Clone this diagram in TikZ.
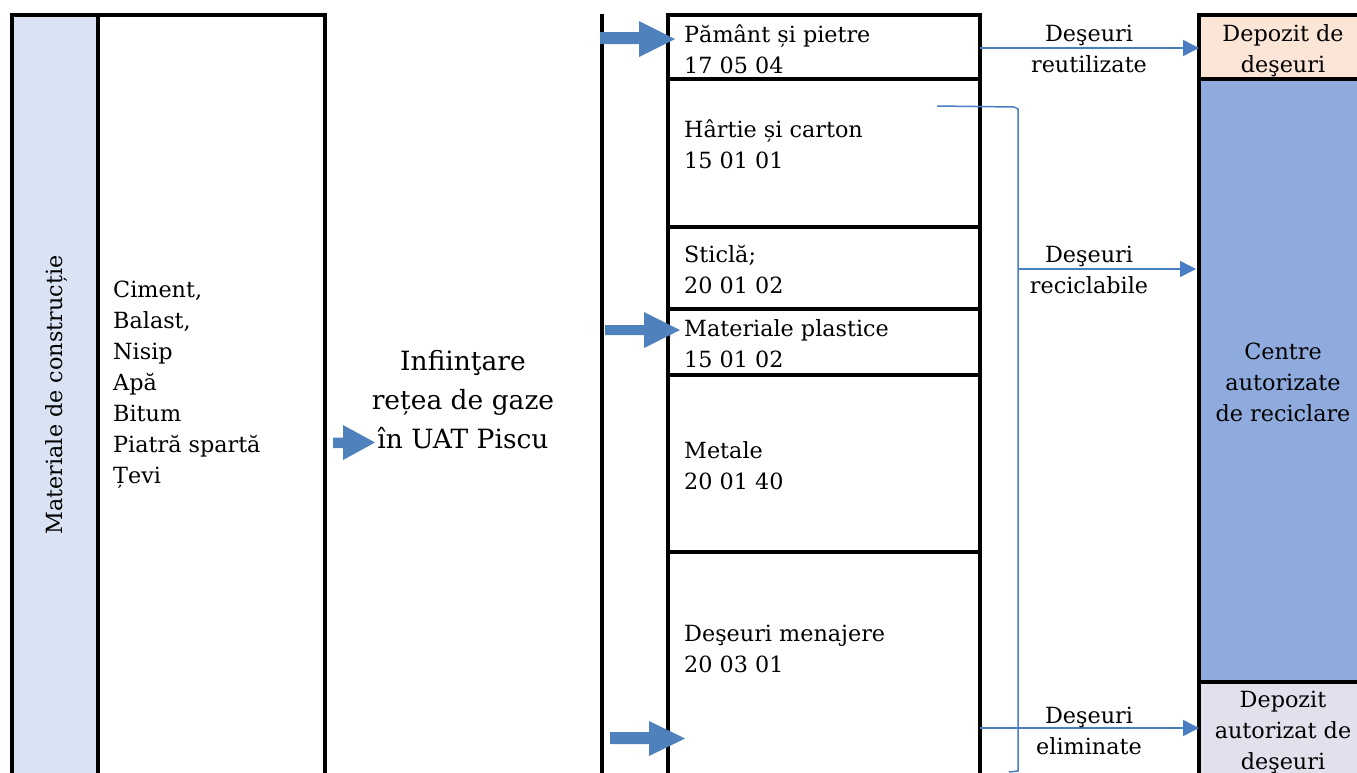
\documentclass[tikz,border=0pt]{standalone}
\usepackage{fontspec}
\setmainfont{DejaVu Serif}
\usetikzlibrary{arrows.meta}
\definecolor{lblue}{HTML}{DAE3F3}
\definecolor{lorange}{HTML}{FBE5D6}
\definecolor{mblue}{HTML}{8FAADC}
\definecolor{lav}{HTML}{E4DFEC}
\definecolor{ablue}{HTML}{4F81BD}
\definecolor{cblue}{HTML}{4A7EC4}
\tikzset{
  cell/.style={draw=black, line width=3.2pt, inner sep=0pt, outer sep=0pt},
  bodyfont/.style={font={\fontsize{22.3}{31}\selectfont}},
  wtext/.style={bodyfont, anchor=base west, inner sep=0pt, align=left},
  ctext/.style={bodyfont, anchor=base, inner sep=0pt, align=center},
  cline/.style={draw=cblue, line width=1.5pt},
  conn/.style={cline, -{Triangle[length=16pt,width=16pt]}},
  barrow/.style={fill=ablue, draw=none}
}
\begin{document}
\begin{tikzpicture}[x=1pt,y=-1pt]
\useasboundingbox (0,0) rectangle (1357,772);
\clip (0,0) rectangle (1357,772);
\fill[white] (0,0) rectangle (1357,772);

% left columns
\node[cell, fill=lblue, minimum width=86pt, minimum height=785pt] (matcol) at (55,407.5) {};
\node[cell, minimum width=227pt, minimum height=785pt] (matlist) at (211.5,407.5) {};
\node[bodyfont, rotate=90, inner sep=0pt] (matlabel) at (57,395) {Materiale de construcție};
\node[wtext] (materials) at (113,483) {Ciment,\\Balast,\\Nisip\\Apă\\Bitum\\Piatră spartă\\Țevi};

% project
\node[font={\fontsize{26.5}{39}\selectfont}, anchor=base, align=center, inner sep=0pt] (project) at (463,448) {Infiinţare\\rețea de gaze\\în UAT Piscu};
\draw[line width=3.2pt] (602,14) -- (602,800);

% waste cells
\node[cell, minimum width=312pt, minimum height=64pt] (pam) at (824,47) {};
\node[cell, minimum width=312pt, minimum height=148pt] (hartie) at (824,153) {};
\node[cell, minimum width=312pt, minimum height=82pt] (sticla) at (824,268) {};
\node[cell, minimum width=312pt, minimum height=66pt] (plastic) at (824,342) {};
\node[cell, minimum width=312pt, minimum height=177pt] (metale) at (824,463.5) {};
\node[cell, minimum width=312pt, minimum height=248pt] (menaj) at (824,676) {};

\node[wtext] (tpam) at (684,73) {Pământ și pietre\\17 05 04};
\node[wtext] (thartie) at (684,168) {Hârtie și carton\\15 01 01};
\node[wtext] (tsticla) at (684,293) {Sticlă;\\20 01 02};
\node[wtext] (tplastic) at (684,367) {Materiale plastice\\15 01 02};
\node[wtext] (tmetale) at (684,489) {Metale\\20 01 40};
\node[wtext] (tmenaj) at (684,672) {Deşeuri menajere\\20 03 01};

% right column
\node[cell, fill=lorange, minimum width=221pt, minimum height=64pt] (depozit) at (1309.5,47) {};
\node[cell, fill=mblue, minimum width=221pt, minimum height=603pt] (centre) at (1309.5,380.5) {};
\node[cell, fill=lav, minimum width=221pt, minimum height=118pt] (depaut) at (1309.5,741) {};
\node[ctext] (tdepozit) at (1283,72) {Depozit de\\deşeuri};
\node[ctext] (tcentre) at (1283,421) {Centre\\autorizate\\de reciclare};
\node[ctext] (tdepaut) at (1283,769) {Depozit\\autorizat de\\deşeuri};

% block arrows
\fill[barrow] (600,32) -- (639,32) -- (639,21) -- (675,39) -- (639,57) -- (639,44) -- (600,44) -- cycle;
\fill[barrow] (605,325) -- (644,325) -- (644,312) -- (680,330) -- (644,348) -- (644,335) -- (605,335) -- cycle;
\fill[barrow] (610,732) -- (649,732) -- (649,721) -- (685,738.5) -- (649,756) -- (649,744) -- (610,744) -- cycle;
\fill[barrow] (333,437.5) -- (343,437.5) -- (343,425) -- (375,442.5) -- (343,460) -- (343,448) -- (333,448) -- cycle;

% connectors
\draw[conn] (pam.east |- 0,48) -- (depozit.west |- 0,48);
\node[ctext] (lreut) at (1089,72) {Deşeuri\\reutilizate};
\coordinate (hstart) at (937,106);
\coordinate (trunk) at (1018,269);
\draw[cline] (hstart) -- (1014,107) -- (trunk |- 0,109) -- (trunk |- 0,771) -- (1009,772);
\draw[conn, shorten >=3pt] (trunk) -- (centre.west |- trunk);
\node[ctext] (lrec) at (1089,293) {Deşeuri\\reciclabile};
\draw[conn] (menaj.east |- 0,728) -- (depaut.west |- 0,728);
\node[ctext] (lelim) at (1089,754) {Deşeuri\\eliminate};
\end{tikzpicture}
\end{document}
